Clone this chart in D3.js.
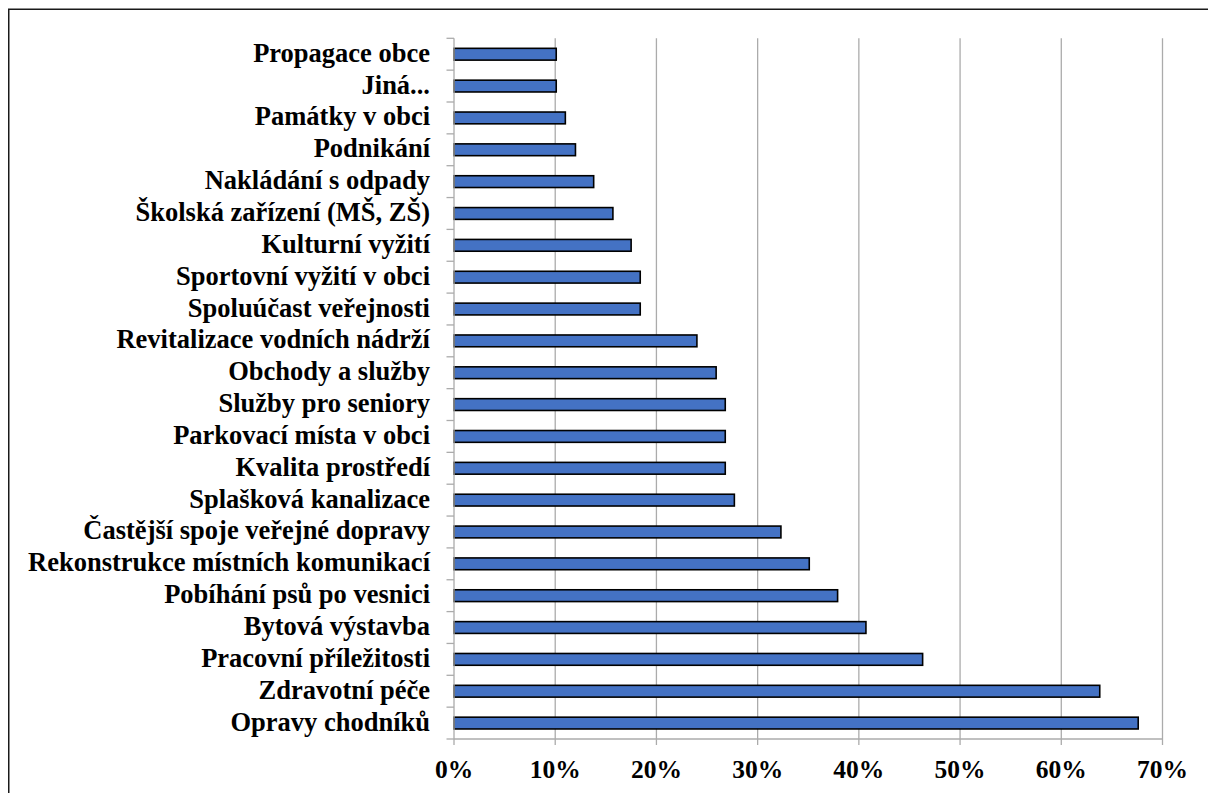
<!DOCTYPE html>
<html><head><meta charset="utf-8">
<script src="https://cdn.jsdelivr.net/npm/d3@7"></script>
<style>html,body{margin:0;padding:0;background:#fff;}svg{display:block;}</style>
</head><body>
<script>
const categories = ["Propagace obce","Jiná...","Památky v obci","Podnikání","Nakládání s odpady","Školská zařízení (MŠ, ZŠ)","Kulturní vyžití","Sportovní vyžití v obci","Spoluúčast veřejnosti","Revitalizace vodních nádrží","Obchody a služby","Služby pro seniory","Parkovací místa v obci","Kvalita prostředí ","Splašková kanalizace","Častější spoje veřejné dopravy","Rekonstrukce místních komunikací","Pobíhání psů po vesnici","Bytová výstavba","Pracovní příležitosti","Zdravotní péče","Opravy chodníků"];
const values = [10.1,10.1,11.0,12.0,13.8,15.7,17.5,18.4,18.4,24.0,25.9,26.8,26.8,26.8,27.7,32.3,35.1,37.9,40.7,46.3,63.8,67.6];
const xTicks = [0,10,20,30,40,50,60,70];

(function(){
const W = 1208, H = 793;
const FONT = "'Liberation Serif','Times New Roman',serif";
const svg = d3.select("body").append("svg").attr("width", W).attr("height", H);
svg.append("rect").attr("x",8.75).attr("y",9.25).attr("width",1400).attr("height",1000)
  .attr("fill","none").attr("stroke","#1a1a1a").attr("stroke-width",1.5);

const pL = 454, pR = 1162.5, pT = 38.3, pB = 739;
const grid = "#ababab";
const x = d3.scaleLinear().domain([0,70]).range([pL,pR]);
const yb = d3.scaleBand().domain(categories).range([pT,pB]);
const y = d3.scaleBand().domain(categories).range([pT,pB]).paddingInner(0.63).paddingOuter(0.315);

svg.append("g").selectAll("line").data(xTicks.slice(1)).join("line")
  .attr("x1",d=>x(d)).attr("x2",d=>x(d)).attr("y1",pT).attr("y2",pB)
  .attr("stroke",grid).attr("stroke-width",1.3);

svg.append("g").selectAll("rect").data(categories).join("rect")
  .attr("x",x(0)).attr("y",d=>y(d)).attr("width",(d,i)=>x(values[i])-x(0)).attr("height",y.bandwidth())
  .attr("fill","#4472c4").attr("stroke","#000").attr("stroke-width",1.6);

const gy = svg.append("g");
gy.append("line").attr("x1",pL).attr("x2",pL).attr("y1",pT).attr("y2",pB).attr("stroke",grid).attr("stroke-width",1.3);
const bounds = categories.map(d=>yb(d)).concat([pB]);
gy.selectAll("line.t").data(bounds).join("line").attr("class","t")
  .attr("x1",pL-7.5).attr("x2",pL).attr("y1",d=>d).attr("y2",d=>d)
  .attr("stroke",grid).attr("stroke-width",1.3);
gy.selectAll("text").data(categories).join("text")
  .attr("x",430).attr("y",d=>yb(d)+yb.bandwidth()/2 + 7.5)
  .attr("text-anchor","end").attr("font-family",FONT)
  .attr("font-weight","bold").attr("font-size",26.5).attr("fill","#000").text(d=>d);

const gx = svg.append("g");
gx.append("line").attr("x1",pL).attr("x2",pR).attr("y1",pB).attr("y2",pB).attr("stroke",grid).attr("stroke-width",1.3);
gx.selectAll("line.t").data(xTicks).join("line").attr("class","t")
  .attr("x1",d=>x(d)).attr("x2",d=>x(d)).attr("y1",pB).attr("y2",pB+6).attr("stroke",grid).attr("stroke-width",1.3);
gx.selectAll("text").data(xTicks).join("text")
  .attr("x",d=>x(d)).attr("y",778).attr("text-anchor","middle")
  .attr("font-family",FONT)
  .attr("font-weight","bold").attr("font-size",25.5).attr("fill","#000").text(d=>d+"%");
})();
</script>
</body></html>
